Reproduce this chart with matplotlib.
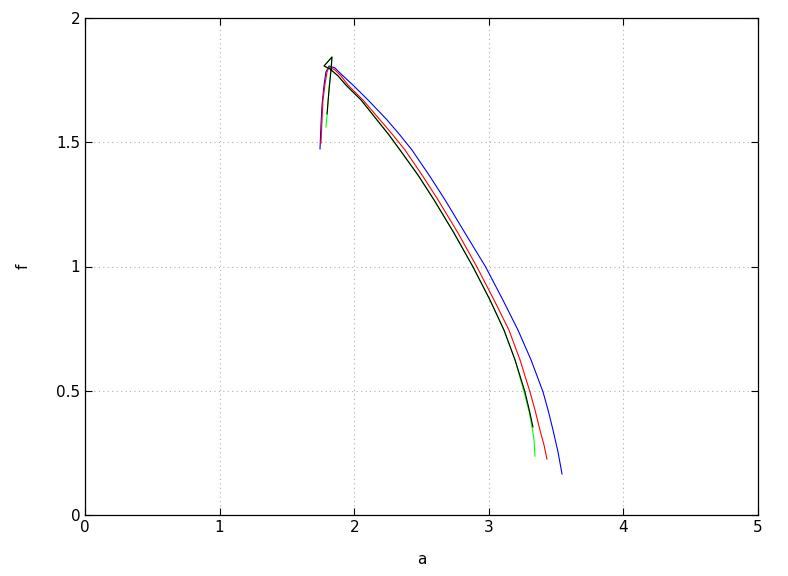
import matplotlib
matplotlib.use("Agg")
from matplotlib import pyplot as plt

# curve points (a, f)
blue_a = [1.746, 1.753, 1.761, 1.776, 1.790, 1.813, 1.857, 1.909, 1.991, 2.103, 2.244,
          2.340, 2.429, 2.556, 2.675, 2.823, 2.977, 3.105, 3.217, 3.314, 3.403, 3.440,
          3.477, 3.514, 3.544]
blue_f = [1.473, 1.569, 1.650, 1.730, 1.783, 1.807, 1.799, 1.771, 1.730, 1.670, 1.590,
          1.529, 1.469, 1.368, 1.268, 1.135, 0.998, 0.865, 0.744, 0.624, 0.495, 0.423,
          0.342, 0.254, 0.165]

red_a = [1.753, 1.761, 1.768, 1.783, 1.798, 1.813, 1.857, 1.902, 1.954, 2.065, 2.192,
         2.288, 2.377, 2.504, 2.623, 2.771, 2.912, 3.039, 3.150, 3.232, 3.306, 3.343,
         3.380, 3.410, 3.432]
red_f = [1.497, 1.590, 1.670, 1.734, 1.783, 1.803, 1.791, 1.767, 1.730, 1.670, 1.590,
         1.529, 1.469, 1.368, 1.268, 1.135, 0.998, 0.865, 0.744, 0.624, 0.495, 0.423,
         0.342, 0.282, 0.225]

green_a = [1.790, 1.802, 1.813, 1.828, 1.835, 1.776, 1.820, 1.880, 1.939, 2.051, 2.169,
           2.259, 2.340, 2.474, 2.593, 2.741, 2.883, 3.009, 3.113, 3.195, 3.262, 3.302,
           3.321, 3.336, 3.343]
green_f = [1.561, 1.630, 1.718, 1.799, 1.843, 1.807, 1.795, 1.767, 1.730, 1.670, 1.590,
           1.529, 1.469, 1.368, 1.268, 1.135, 0.998, 0.865, 0.744, 0.624, 0.495, 0.410,
           0.354, 0.302, 0.237]

black_a = [1.798, 1.813, 1.828, 1.835, 1.776, 1.820, 1.880, 1.939, 2.051, 2.169, 2.259,
           2.340, 2.474, 2.593, 2.741, 2.883, 3.009, 3.113, 3.195, 3.269, 3.306, 3.328]
black_f = [1.614, 1.710, 1.791, 1.843, 1.807, 1.795, 1.767, 1.730, 1.670, 1.590, 1.529,
           1.469, 1.368, 1.268, 1.135, 0.998, 0.865, 0.744, 0.624, 0.495, 0.410, 0.354]

fig = plt.figure(figsize=(7.88, 5.76), dpi=100)
ax = fig.add_axes([85/788, 61/576, 673/788, 497/576])

lw = 0.8
for xs, ys, c in [(blue_a, blue_f, 'blue'), (red_a, red_f, 'red'),
                  (green_a, green_f, '#00ff00'), (black_a, black_f, 'black')]:
    ax.plot(xs, ys, color=c, lw=lw, solid_joinstyle='round')

ax.set_xlim(0, 5)
ax.set_ylim(0, 2)
ax.set_xticks([0, 1, 2, 3, 4, 5])
ax.set_yticks([0, 0.5, 1, 1.5, 2])
ax.set_yticklabels(['0', '0.5', '1', '1.5', '2'])
ax.grid(True, color='#b0b0b0', linestyle=(0, (1, 3)), lw=0.8)
ax.tick_params(direction='in', length=5, width=0.8, top=True, right=True, labelsize=11)
for s in ax.spines.values():
    s.set_linewidth(0.9)

ax.set_xlabel('a', fontsize=11, labelpad=12)
ax.set_ylabel('f', fontsize=11, labelpad=18, rotation=90)

fig.savefig('out.png', dpi=100)
